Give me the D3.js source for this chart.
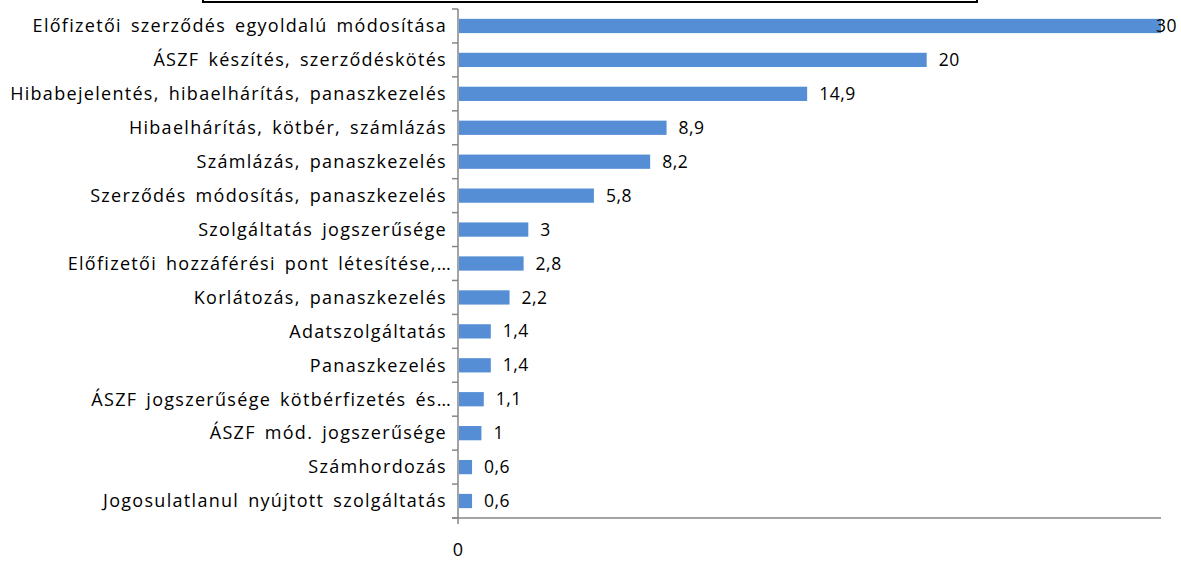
<!DOCTYPE html>
<html><head><meta charset="utf-8">
<script src="https://cdn.jsdelivr.net/npm/d3@7"></script>
<style>body{margin:0;background:#fff}svg{display:block}</style>
</head><body>
<script>
const categories = [
  "Előfizetői szerződés egyoldalú módosítása",
  "ÁSZF készítés, szerződéskötés",
  "Hibabejelentés, hibaelhárítás, panaszkezelés",
  "Hibaelhárítás, kötbér, számlázás",
  "Számlázás, panaszkezelés",
  "Szerződés módosítás, panaszkezelés",
  "Szolgáltatás jogszerűsége",
  "Előfizetői hozzáférési pont létesítése,…",
  "Korlátozás, panaszkezelés",
  "Adatszolgáltatás",
  "Panaszkezelés",
  "ÁSZF jogszerűsége kötbérfizetés és…",
  "ÁSZF mód. jogszerűsége",
  "Számhordozás",
  "Jogosulatlanul nyújtott szolgáltatás"
];
const values = [30, 20, 14.9, 8.9, 8.2, 5.8, 3, 2.8, 2.2, 1.4, 1.4, 1.1, 1, 0.6, 0.6];
const xTickLabels = ["0"];

const W = 1181, H = 563;
const svg = d3.select("body").append("svg").attr("width", W).attr("height", H);
const font = "'Open Sans', sans-serif";

const x = d3.scaleLinear().domain([0, 30]).range([458, 1161]);
const y = d3.scaleBand().domain(categories).range([9, 518]).paddingInner(0.58).paddingOuter(0.29);

// top box remnant
svg.append("path").attr("d", "M203,0 V2 H977 V0").attr("fill", "none").attr("stroke", "#000").attr("stroke-width", 2);

// bars
svg.append("g").selectAll("rect").data(values).join("rect")
  .attr("x", x(0) + 1)
  .attr("y", (d, i) => y(categories[i]))
  .attr("width", d => x(d) - x(0) - 1)
  .attr("height", y.bandwidth())
  .attr("fill", "#558ED5");

// y axis
const yAxisG = svg.append("g");
yAxisG.append("line").attr("x1", 458).attr("x2", 458).attr("y1", 9).attr("y2", 524).attr("stroke", "#868686").attr("stroke-width", 1.5);
const step = y.step();
const boundaries = d3.range(categories.length + 1).map(i => 9 + i * step);
yAxisG.selectAll("line.tk").data(boundaries).join("line").attr("class", "tk")
  .attr("x1", 452).attr("x2", 458).attr("y1", d => d).attr("y2", d => d)
  .attr("stroke", "#868686").attr("stroke-width", 1.5);

// x axis
svg.append("line").attr("x1", 452).attr("x2", 1161).attr("y1", 518).attr("y2", 518).attr("stroke", "#868686").attr("stroke-width", 1.5);
svg.append("g").selectAll("text").data(xTickLabels).join("text")
  .attr("x", d => x(+d)).attr("y", 556).attr("text-anchor", "middle")
  .attr("font-family", font).attr("font-size", 18).attr("fill", "#000").text(d => d);

// category labels
svg.append("g").selectAll("text").data(categories).join("text")
  .attr("x", d => d.endsWith("…") ? 452 : 447)
  .attr("y", d => y(d) + y.bandwidth() / 2)
  .attr("dy", "0.35em").attr("text-anchor", "end")
  .attr("font-family", font).attr("font-size", 18).attr("fill", "#000")
  .attr("letter-spacing", 1.3).attr("word-spacing", 3)
  .text(d => d);

// value labels
const fmt = v => String(v).replace(".", ",");
svg.append("g").selectAll("text").data(values).join("text")
  .attr("y", (d, i) => y(categories[i]) + y.bandwidth() / 2)
  .attr("dy", "0.35em")
  .attr("font-family", font).attr("font-size", 17.5).attr("fill", "#000")
  .attr("letter-spacing", 0.5)
  .text(d => fmt(d))
  .each(function(d) {
    const w = this.getComputedTextLength();
    this.setAttribute("x", Math.min(x(d) + 12, W - w - 4));
  });
</script>
</body></html>
